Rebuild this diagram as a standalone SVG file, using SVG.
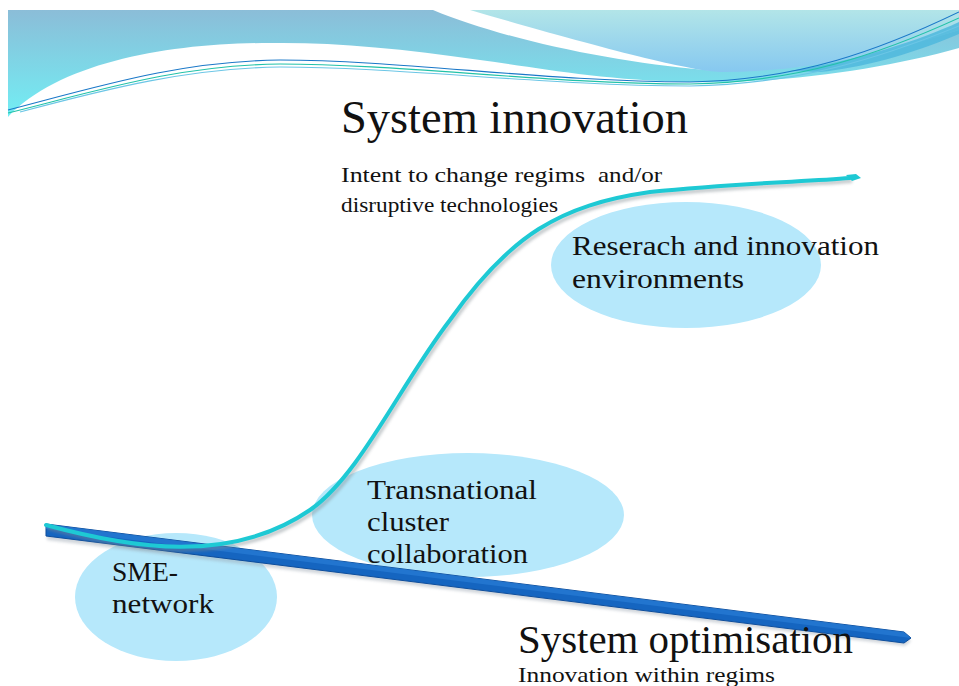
<svg xmlns="http://www.w3.org/2000/svg" width="959" height="686" viewBox="0 0 959 686">
  <defs>
    <linearGradient id="bandLeft" x1="0" y1="0" x2="0" y2="1">
      <stop offset="0" stop-color="#8bbdd8"/>
      <stop offset="1" stop-color="#72eef4"/>
    </linearGradient>
    <linearGradient id="bandRight" x1="0" y1="0" x2="0" y2="1">
      <stop offset="0" stop-color="#b2e5e8"/>
      <stop offset="1" stop-color="#86c8f0"/>
    </linearGradient>
    <filter id="soft" x="-5%" y="-20%" width="110%" height="140%">
      <feGaussianBlur stdDeviation="1.5"/>
    </filter>
  </defs>
  <style>
    .lbl { font-family: "Liberation Serif", "DejaVu Serif", serif; fill: #111; }
    .node { fill: #b6e8fb; }
    .wave { fill: none; stroke-width: 1.1; }
  </style>

  <rect width="959" height="686" fill="#ffffff"/>

  <!-- header waves -->
  <g id="header">
    <path fill="url(#bandLeft)" d="M8,10 L433,10 C500,38 610,62 705,70 C785,75 880,55 959,30 L959,48 C880,70 780,84 690,82 C600,80 540,68 480,60 C400,48 330,42 270,43 C170,43 60,62 8,117 Z"/>
    <path fill="url(#bandRight)" d="M470,10 L959,10 L959,30 C880,56 800,72 720,72 C690,71 600,48 470,10 Z"/>
    <path fill="#4fb9dd" opacity="0.85" d="M790,71 C860,60 920,40 959,22 L959,34 C910,55 860,68 820,72 Z"/>
    <path class="wave" stroke="#1a78c8" d="M8,110 C100,86 180,61 280,60 C400,60 550,82 690,82 C800,80 880,50 959,12"/>
    <path class="wave" stroke="#22c2a8" d="M8,113 C100,90 180,65 280,64 C400,64 550,84 690,84 C800,82 880,54 959,18"/>
    <path class="wave" stroke="#6cc6e6" d="M20,112 C110,88 190,68 280,67 C400,67 550,86 690,86 C800,84 880,58 959,26"/>
  </g>

  <!-- regime headings -->
  <g id="system-innovation">
    <text class="lbl" x="341" y="133" font-size="46" textLength="347" lengthAdjust="spacingAndGlyphs">System innovation</text>
    <text class="lbl" x="341" y="182" font-size="21" textLength="244" lengthAdjust="spacingAndGlyphs">Intent to change regims</text>
    <text class="lbl" x="598" y="182" font-size="21" textLength="64" lengthAdjust="spacingAndGlyphs">and/or</text>
    <text class="lbl" x="341" y="212" font-size="21" textLength="217" lengthAdjust="spacingAndGlyphs">disruptive technologies</text>
  </g>

  <!-- nodes -->
  <g id="node-research">
    <ellipse class="node" cx="686" cy="265" rx="135" ry="63"/>
  </g>
  <g id="node-transnational">
    <ellipse class="node" cx="468" cy="515" rx="156" ry="62"/>
  </g>
  <g id="node-sme">
    <ellipse class="node" cx="176" cy="597" rx="101" ry="64"/>
  </g>

  <!-- connectors -->
  <g id="connectors">
    <!-- optimisation axis -->
    <polygon points="46,526 904,633 910,638 904,643 46,537" fill="#9aa4b0" opacity="0.45" filter="url(#soft)" transform="translate(1,3)"/>
    <polygon points="46,524 904,632 911,638 904,643 46,536" fill="#1565c0" stroke="#0e4e9c" stroke-width="1"/>
    <polygon points="46,524 904,632 911,638 46,529" fill="#2b80d8" opacity="0.6"/>
    <!-- innovation S-curve -->
    <path d="M46,525 C130,548 230,565 310,510 C360,475 400,385 450,320 C510,235 560,205 650,192 C740,183 800,182 850,178" fill="none" stroke="#7f8a90" stroke-width="4" opacity="0.45" filter="url(#soft)" transform="translate(2,3)"/>
    <path d="M46,525 C130,548 230,565 310,510 C360,475 400,385 450,320 C510,235 560,205 650,192 C740,183 800,182 850,178" fill="none" stroke="#1ec9d4" stroke-width="4" stroke-linecap="round"/>
    <path d="M846,175 L856,174 L861,178 L852,181 Z" fill="#1ec9d4"/>
  </g>

  <!-- node labels -->
  <g id="labels">
    <text class="lbl" x="572" y="255" font-size="28" textLength="307" lengthAdjust="spacingAndGlyphs">Reserach and innovation</text>
    <text class="lbl" x="572" y="288" font-size="28" textLength="172" lengthAdjust="spacingAndGlyphs">environments</text>
    <text class="lbl" x="367" y="499" font-size="28" textLength="170" lengthAdjust="spacingAndGlyphs">Transnational</text>
    <text class="lbl" x="367" y="531" font-size="28" textLength="82" lengthAdjust="spacingAndGlyphs">cluster</text>
    <text class="lbl" x="367" y="563" font-size="28" textLength="161" lengthAdjust="spacingAndGlyphs">collaboration</text>
    <text class="lbl" x="112" y="581" font-size="28" textLength="66" lengthAdjust="spacingAndGlyphs">SME-</text>
    <text class="lbl" x="112" y="613" font-size="28" textLength="102" lengthAdjust="spacingAndGlyphs">network</text>
  </g>

  <g id="system-optimisation">
    <text class="lbl" x="518" y="653" font-size="40" textLength="335" lengthAdjust="spacingAndGlyphs">System optimisation</text>
    <text class="lbl" x="518" y="682" font-size="22" textLength="257" lengthAdjust="spacingAndGlyphs">Innovation within regims</text>
  </g>
</svg>
